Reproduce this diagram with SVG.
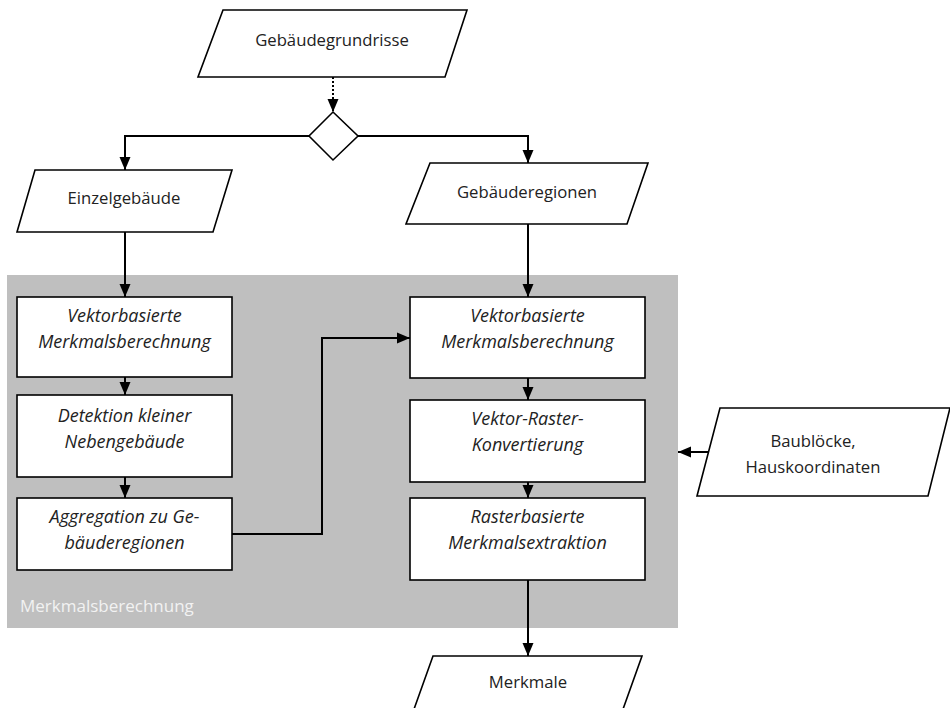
<svg xmlns="http://www.w3.org/2000/svg" width="950" height="708" viewBox="0 0 950 708">
<style>
.shape{fill:#fff;stroke:#000;stroke-width:1.6}
.t{font-family:"Open Sans","Noto Sans",sans-serif;font-size:16.7px;fill:#222;text-anchor:middle}
.i{font-style:italic;font-size:18px}
.c{fill:none;stroke:#000;stroke-width:2}
.lbl{font-family:"Open Sans","Noto Sans",sans-serif;font-size:17px;fill:#f2f2f2}
</style>
<defs>
<marker id="ah" markerUnits="userSpaceOnUse" markerWidth="14" markerHeight="14" viewBox="0 0 14 14" refX="13" refY="7" orient="auto">
<path d="M0,1.5 L13,7 L0,12.5 Z" fill="#000"/>
</marker>
</defs>
<rect id="region" x="7" y="275" width="671" height="353" fill="#bfbfbf"/>
<text class="lbl" x="20" y="612">Merkmalsberechnung</text>
<g id="connectors">
<path class="c" d="M333,77 V112" stroke-dasharray="2,2" marker-end="url(#ah)"/>
<path class="c" d="M309,136 H125 V170" marker-end="url(#ah)"/>
<path class="c" d="M358,136 H528 V163" marker-end="url(#ah)"/>
<path class="c" d="M125,232 V297" marker-end="url(#ah)"/>
<path class="c" d="M125,377 V395" marker-end="url(#ah)"/>
<path class="c" d="M125,477 V498" marker-end="url(#ah)"/>
<path class="c" d="M232,534 H322 V338 H410" marker-end="url(#ah)"/>
<path class="c" d="M528,224 V297" marker-end="url(#ah)"/>
<path class="c" d="M528,378 V400" marker-end="url(#ah)"/>
<path class="c" d="M528,482 V498" marker-end="url(#ah)"/>
<path class="c" d="M528,580 V656" marker-end="url(#ah)"/>
<path class="c" d="M708,452 H678" marker-end="url(#ah)"/>
</g>
<g id="grundrisse">
<polygon class="shape" points="223,10 467,10 445,77 198,77"/>
<text class="t" x="332" y="46">Gebäudegrundrisse</text>
</g>
<g id="decision">
<polygon class="shape" points="333,112 358,136 333,160 309,136"/>
</g>
<g id="einzelgebaeude">
<polygon class="shape" points="35,170 232,170 213,232 17,232"/>
<text class="t" x="124" y="204">Einzelgebäude</text>
</g>
<g id="gebaeuderegionen">
<polygon class="shape" points="430,163 648,163 627,224 406,224"/>
<text class="t" x="527" y="198">Gebäuderegionen</text>
</g>
<g id="l1">
<rect class="shape" x="17" y="297" width="215" height="80"/>
<text class="t i" x="124.5" y="322">Vektorbasierte</text>
<text class="t i" x="124.5" y="348">Merkmalsberechnung</text>
</g>
<g id="l2">
<rect class="shape" x="17" y="395" width="215" height="82"/>
<text class="t i" x="124.5" y="422">Detektion kleiner</text>
<text class="t i" x="124.5" y="448">Nebengebäude</text>
</g>
<g id="l3">
<rect class="shape" x="17" y="498" width="215" height="72"/>
<text class="t i" x="124.5" y="523">Aggregation zu Ge-</text>
<text class="t i" x="124.5" y="549">bäuderegionen</text>
</g>
<g id="r1">
<rect class="shape" x="410" y="297" width="235" height="81"/>
<text class="t i" x="527.5" y="322">Vektorbasierte</text>
<text class="t i" x="527.5" y="348">Merkmalsberechnung</text>
</g>
<g id="r2">
<rect class="shape" x="410" y="400" width="235" height="82"/>
<text class="t i" x="527.5" y="425">Vektor-Raster-</text>
<text class="t i" x="527.5" y="451">Konvertierung</text>
</g>
<g id="r3">
<rect class="shape" x="410" y="498" width="235" height="82"/>
<text class="t i" x="527.5" y="523">Rasterbasierte</text>
<text class="t i" x="527.5" y="549">Merkmalsextraktion</text>
</g>
<g id="baubloecke">
<polygon class="shape" points="720,408 950,408 928,496 697,496"/>
<text class="t" x="813" y="447">Baublöcke,</text>
<text class="t" x="813" y="473">Hauskoordinaten</text>
</g>
<g id="merkmale">
<polygon class="shape" points="433,656 642,656 622,712 413,712"/>
<text class="t" x="528" y="688">Merkmale</text>
</g>
</svg>
